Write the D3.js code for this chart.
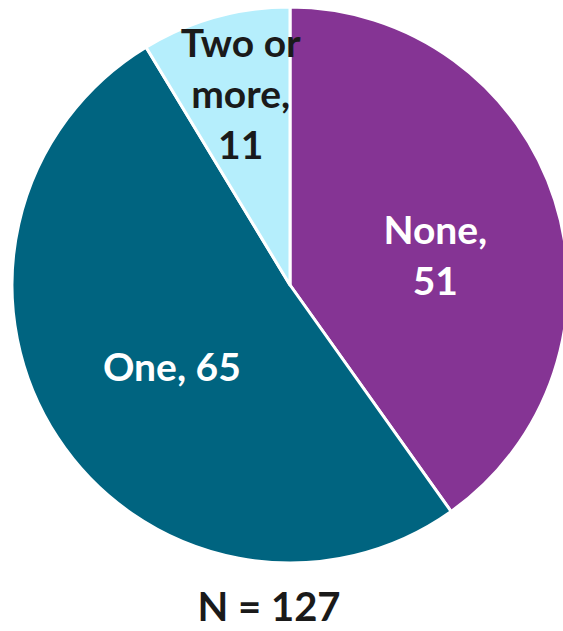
<!DOCTYPE html>
<html>
<head>
<meta charset="utf-8">
<script src="https://cdn.jsdelivr.net/npm/d3@7"></script>
<style>
  body { margin: 0; background: #fff; }
  svg { display: block; }
  text { font-family: Lato, "Open Sans", sans-serif; font-weight: 700; }
</style>
</head>
<body>
<div id="chart"></div>
<script>
// data
const categories = ["None", "One", "Two or more"];
const counts = [51, 65, 11];
const labelLines = [["None,", "51"], ["One, 65"], ["Two or", "more,", "11"]];
const colors = ["#853494", "#006480", "#b5eefc"];
const textColors = ["#ffffff", "#ffffff", "#1a1a1a"];
const total = d3.sum(counts);

const width = 563, height = 631;
const cx = 290, cy = 285, radius = 278;
const fontSize = 39, lineH = 51;

const svg = d3.select("#chart").append("svg")
    .attr("width", width)
    .attr("height", height);

const g = svg.append("g")
    .attr("transform", `translate(${cx},${cy})`);

const pie = d3.pie().sort(null).value(d => d.value);
const slices = pie(categories.map((c, i) => ({cat: c, value: counts[i], i: i})));

const arc = d3.arc().innerRadius(0).outerRadius(radius);

g.selectAll("path.slice")
    .data(slices)
    .enter().append("path")
    .attr("class", "slice")
    .attr("d", arc)
    .attr("fill", d => colors[d.data.i])
    .attr("stroke", "#fff")
    .attr("stroke-width", 3)
    .attr("stroke-linejoin", "round");

// label position: small slice gets pushed further out, small nudges like excel does
const labelR = d => d.data.value / total < 0.15 ? radius * 0.70 : radius * 0.53;
const nudge = [[5, 15], [5, 1], [3, -4]];

g.selectAll("text.lbl")
    .data(slices)
    .enter().append("text")
    .attr("class", "lbl")
    .attr("text-anchor", "middle")
    .attr("fill", d => textColors[d.data.i])
    .attr("font-size", fontSize)
    .each(function (d) {
        const a = (d.startAngle + d.endAngle) / 2;
        const r = labelR(d);
        const x = Math.sin(a) * r + nudge[d.data.i][0];
        const y = -Math.cos(a) * r + nudge[d.data.i][1];
        const lines = labelLines[d.data.i];
        const y0 = y - (lines.length - 1) * lineH / 2 + fontSize * 0.36;
        d3.select(this).selectAll("tspan")
            .data(lines)
            .enter().append("tspan")
            .attr("x", x)
            .attr("y", (l, k) => y0 + k * lineH)
            .text(l => l);
    });

// sample size under the pie
svg.append("text")
    .attr("x", 269)
    .attr("y", 621)
    .attr("text-anchor", "middle")
    .attr("font-size", 40)
    .attr("fill", "#1a1a1a")
    .text("N = " + total);
</script>
</body>
</html>
